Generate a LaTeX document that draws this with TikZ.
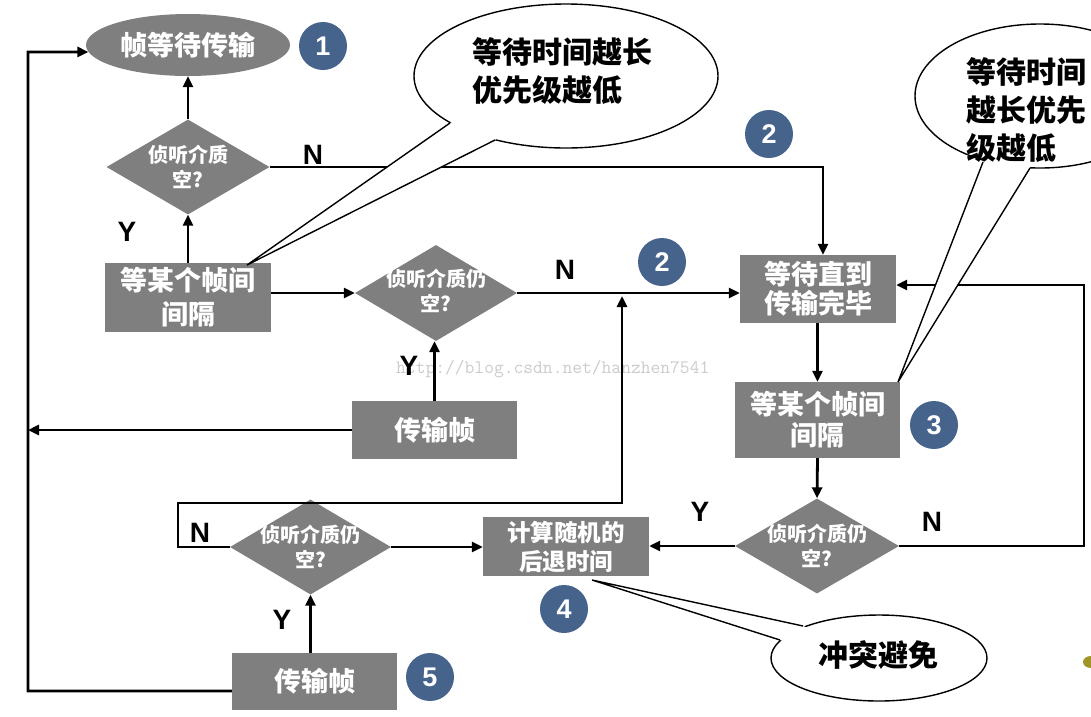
\documentclass[tikz,border=0pt]{standalone}
\usepackage{fontspec}
\setmainfont{Liberation Sans}
\newfontfamily\cjk{Noto Sans CJK SC}
\usetikzlibrary{shapes.geometric,arrows.meta,calc}
\definecolor{boxgray}{RGB}{127,127,127}
\definecolor{numblue}{RGB}{70,99,140}
\definecolor{blobolive}{RGB}{160,150,40}
\begin{document}
\begin{tikzpicture}[x=1pt,y=-1pt,
  box/.style={fill=boxgray,text=white,inner sep=0pt,align=center,font=\cjk\bfseries\fontsize{27}{33}\selectfont},
  dia/.style={diamond,fill=boxgray,inner sep=0pt},
  diatext/.style={text=white,align=center,inner sep=0pt,font=\cjk\bfseries\fontsize{20}{25}\selectfont},
  num/.style={circle,fill=numblue,text=white,minimum size=48pt,inner sep=0pt,font=\bfseries\fontsize{27}{27}\selectfont},
  lbl/.style={font=\bfseries\fontsize{28}{28}\selectfont,inner sep=0pt},
  conn/.style={line width=2.8pt,-{Triangle[length=11pt,width=10pt]}},
  wire/.style={line width=2.8pt},
  call/.style={draw=black,line width=1.4pt,fill=white,ellipse,inner sep=0pt},
  tail/.style={line width=1.4pt},
  calltext/.style={font=\cjk\bfseries\fontsize{30}{38}\selectfont,align=left,inner sep=0pt,text=black}
]
\useasboundingbox (0,0) rectangle (1091,716);
\fill[white] (0,0) rectangle (1091,716);
\begin{scope}
\clip (0,0) rectangle (1091,716);

% watermark
\node[text=gray!40,font=\ttfamily\fontsize{19}{19}\selectfont,anchor=west,inner sep=0pt] (wm) at (396,369) {http://blog.csdn.net/hanzhen7541};

% nodes
\node[ellipse,fill=boxgray,text=white,minimum width=204pt,minimum height=62pt,inner sep=0pt,font=\cjk\bfseries\fontsize{27}{30}\selectfont] (E) at (188,45) {帧等待传输};

\node[dia,minimum width=163pt,minimum height=95pt] (D1) at (188,167) {};
\node[diatext] (D1t) at (D1) {侦听介质\\空?};

\node[box,minimum width=166pt,minimum height=69pt,font=\cjk\bfseries\fontsize{27}{34}\selectfont] (B1) at (188,297.5) {等某个帧间\\间隔};

\node[dia,minimum width=162pt,minimum height=96pt] (D2) at (436,293) {};
\node[diatext] (D2t) at ([yshift=2pt]D2.center) {侦听介质仍\\空?};

\node[box,minimum width=165pt,minimum height=58pt] (T1) at (434.5,430) {传输帧};

\node[box,minimum width=156pt,minimum height=68pt,font=\cjk\bfseries\fontsize{27}{29}\selectfont] (W) at (818,289) {等待直到\\传输完毕};

\node[box,minimum width=165pt,minimum height=76pt,font=\cjk\bfseries\fontsize{27}{31}\selectfont] (B2) at (817.5,420) {等某个帧间\\间隔};

\node[dia,minimum width=164pt,minimum height=95pt] (D3) at (817,546) {};
\node[diatext] (D3t) at (D3) {侦听介质仍\\空?};

\node[box,minimum width=166pt,minimum height=59pt,font=\cjk\bfseries\fontsize{23.5}{29}\selectfont] (C) at (566,546.5) {计算随机的\\后退时间};

\node[dia,minimum width=161pt,minimum height=95pt] (D4) at (310.5,547) {};
\node[diatext] (D4t) at (D4) {侦听介质仍\\空?};

\node[box,minimum width=165pt,minimum height=57pt] (T2) at (314.5,681.5) {传输帧};

% number circles
\node[num] (n1) at (323,46) {1};
\node[num] (n2a) at (769,134) {2};
\node[num] (n2b) at (662,262) {2};
\node[num] (n3) at (934,425) {3};
\node[num] (n4) at (564,609) {4};
\node[num] (n5) at (430,677) {5};

% connectors
\coordinate (Ltop) at (28,52);
\coordinate (Lbot) at (28,691);
\coordinate (Rtop) at (1084,285);
\coordinate (Ja) at (178,503);
\coordinate (J) at (622,296);

\draw[conn] (T2.west |- Lbot) -- (Lbot) -- (Ltop) -- (E.184);
\draw[conn] (T1.west) -- (T1.west -| Ltop);
\draw[conn] (D1.north) -- (E.south);
\draw[conn] (B1.north) -- (D1.south);
\draw[conn] (D1.east) -| ([xshift=5pt]W.north);
\draw[conn] (D2.west -| B1.east) -- (D2.west);
\draw[conn] (D2.east) -- (D2.east -| W.west);
\draw[conn] (T1.north) -- (T1.north |- D2.south);
\draw[conn] (W.south -| B2.north) -- (B2.north);
\draw[conn] (B2.south) -- (D3.north);
\draw[conn] (D3.east) -| (Rtop) -- (Rtop -| W.east);
\draw[conn] (D3.west) -- (D3.west -| C.east);
\draw[conn] (D4.east) -- (D4.east -| C.west);
\draw[conn] (D4.west) -| (Ja) -| (J);
\draw[conn] (T2.north -| D4.south) -- (D4.south);

% Y / N labels
\node[lbl] (y1) at (127,232) {Y};
\node[lbl] (nn1) at (313,155) {N};
\node[lbl] (nn2) at (565,270) {N};
\node[lbl] (y2) at (409,366) {Y};
\node[lbl] (y3) at (700,512) {Y};
\node[lbl] (nn3) at (932,522) {N};
\node[lbl] (nn4) at (200,533) {N};
\node[lbl] (y4) at (282,620) {Y};

% callout 1
\node[call,minimum width=304pt,minimum height=144pt] (CA) at (566,76) {};
\fill[white] (450,123) -- (247,265) -- (495,140) -- (CA.center) -- cycle;
\draw[tail] (450,123) -- (247,265) -- (495,140);
\node[calltext,anchor=west] (CAt) at (472,71) {等待时间越长\\优先级越低};

% callout 2
\node[call,minimum width=250pt,minimum height=144pt] (CB) at (1040,96) {};
\fill[white] (983,162) -- (898,382) -- (1030,168) -- (CB.center) -- cycle;
\draw[tail] (983,162) -- (898,382) -- (1030,168);
\node[calltext,anchor=west] (CBt) at (966,110) {等待时间\\越长优先\\级越低};

% callout 3
\node[call,minimum width=216pt,minimum height=86pt] (CC) at (879,658) {};
\fill[white] (803,626) -- (592,580) -- (780,640) -- (CC.center) -- cycle;
\draw[tail] (803,626) -- (592,580) -- (780,640);
\node[calltext] (CCt) at (878,655) {冲突避免};

% partial bullet at the right edge
\fill[blobolive] (1091,662) ellipse [x radius=8pt, y radius=6pt];
\end{scope}
\end{tikzpicture}
\end{document}
